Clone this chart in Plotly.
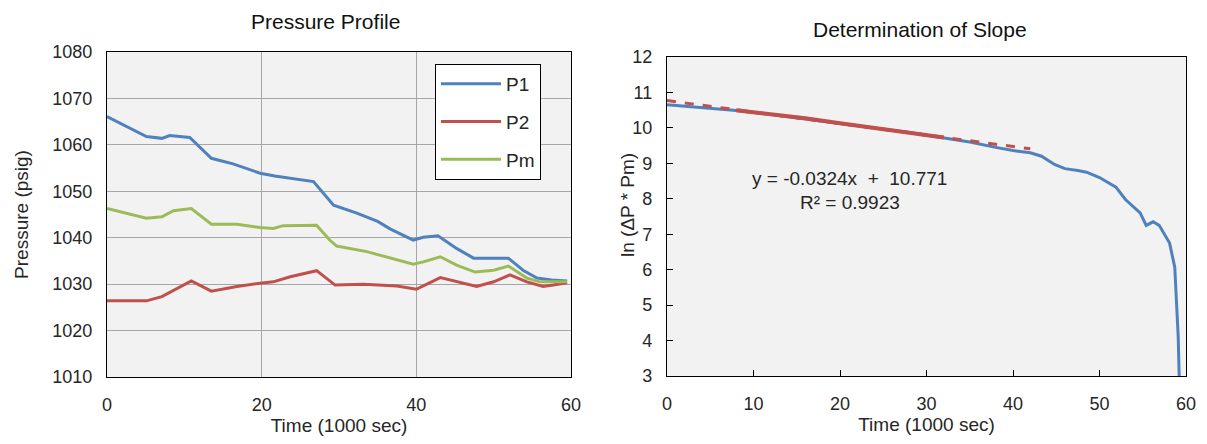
import plotly.graph_objects as go

# ---------------- Left chart: Pressure Profile ----------------
p1_time = [0, 2.1, 5.1, 7.1, 8.1, 10.7, 13.5, 16.3, 19.8, 21.7, 26.7, 29.3, 32.3, 35.0, 36.6,
           39.6, 40.9, 42.8, 45.2, 47.4, 49.5, 51.9, 53.8, 55.6, 57.5, 59.5]
p1_vals = [1066.1, 1064.3, 1061.8, 1061.4, 1062.0, 1061.6, 1057.1, 1055.9, 1053.9, 1053.3, 1052.1,
           1047.0, 1045.3, 1043.5, 1041.9, 1039.5, 1040.1, 1040.4, 1037.7, 1035.6, 1035.6, 1035.6,
           1033.0, 1031.3, 1030.9, 1030.7]

p2_time = [0, 5.1, 7.1, 8.6, 10.9, 13.5, 16.8, 19.8, 21.5, 23.7, 27.1, 29.5, 33.2, 37.5, 40.0,
           43.1, 47.8, 50.0, 52.1, 54.3, 56.4, 57.7, 59.5]
p2_vals = [1026.4, 1026.4, 1027.3, 1028.7, 1030.7, 1028.5, 1029.5, 1030.2, 1030.5, 1031.6, 1032.9,
           1029.8, 1030.0, 1029.6, 1028.9, 1031.4, 1029.5, 1030.5, 1032.0, 1030.5, 1029.5, 1029.8,
           1030.3]

pm_time = [0, 2.1, 5.1, 7.1, 8.6, 10.9, 13.5, 16.8, 19.8, 21.5, 22.8, 27.1, 28.8, 29.7, 33.6,
           39.6, 40.9, 43.1, 45.2, 47.6, 50.0, 51.9, 54.3, 56.0, 59.5]
pm_vals = [1046.3, 1045.4, 1044.2, 1044.5, 1045.8, 1046.3, 1042.9, 1042.9, 1042.2, 1042.0, 1042.6,
           1042.7, 1039.5, 1038.2, 1037.0, 1034.3, 1034.8, 1035.9, 1034.1, 1032.6, 1033.0, 1033.9,
           1031.3, 1030.5, 1030.5]

# ---------------- Right chart: Determination of Slope ----------------
ln_time = [0, 4, 8, 12, 16, 20, 24, 28, 32, 35, 38, 40, 42, 43.3, 44.8, 46, 47.5, 48.5, 50.0,
           51.9, 53.0, 54.7, 55.4, 56.2, 56.9, 58.1, 58.7, 58.9, 59.1, 59.2, 59.25]
ln_vals = [10.65, 10.57, 10.49, 10.38, 10.26, 10.13, 10.00, 9.87, 9.72, 9.60, 9.45, 9.36, 9.30,
           9.20, 8.97, 8.85, 8.80, 8.75, 8.60, 8.33, 7.98, 7.60, 7.25, 7.35, 7.25, 6.75, 6.07,
           5.14, 4.10, 3.10, 2.80]

fit_time = [8, 12, 16, 20, 24, 28, 32]
fit_vals = [10.50, 10.39, 10.27, 10.13, 10.00, 9.87, 9.73]

trend_time = [0, 42]
trend_vals = [10.771, 9.410]

BLUE = "#4F81BD"
RED = "#C0504D"
GREEN = "#9BBB59"
FONT = "Liberation Sans, Arial, sans-serif"
TXT = "#262626"

# page body has an 8px margin; figure sits at (8, 8) and must not overflow the window
W, H = 1199, 428


def px(x):
    return (x - 8) / W


def py(y):
    return 1 - (y - 8) / H


fig = go.Figure()

fig.add_trace(go.Scatter(x=p1_time, y=p1_vals, mode="lines", name="P1", legendgroup="a",
                         line=dict(color=BLUE, width=3), xaxis="x", yaxis="y"))
fig.add_trace(go.Scatter(x=p2_time, y=p2_vals, mode="lines", name="P2", legendgroup="b",
                         line=dict(color=RED, width=3), xaxis="x", yaxis="y"))
fig.add_trace(go.Scatter(x=pm_time, y=pm_vals, mode="lines", name="Pm", legendgroup="c",
                         line=dict(color=GREEN, width=3), xaxis="x", yaxis="y"))

fig.add_trace(go.Scatter(x=ln_time, y=ln_vals, mode="lines", showlegend=False,
                         line=dict(color=BLUE, width=3), xaxis="x2", yaxis="y2"))
fig.add_trace(go.Scatter(x=fit_time, y=fit_vals, mode="lines", showlegend=False,
                         line=dict(color=RED, width=4), xaxis="x2", yaxis="y2"))
fig.add_trace(go.Scatter(x=trend_time, y=trend_vals, mode="lines", showlegend=False,
                         line=dict(color=RED, width=3, dash="dash"), xaxis="x2", yaxis="y2"))

tickfont = dict(family=FONT, size=18, color=TXT)
titlefont = dict(family=FONT, size=19, color=TXT)

common = dict(automargin=False, zeroline=False, showline=True, linecolor="black",
              linewidth=1.2, mirror=True)

fig.update_layout(
    width=W, height=H,
    margin=dict(l=0, r=0, t=0, b=0),
    paper_bgcolor="white",
    plot_bgcolor="#F2F2F2",
    font=dict(family=FONT, color=TXT),
    showlegend=True,
    legend=dict(x=px(435), y=py(64), xanchor="left", yanchor="top",
                bgcolor="white", bordercolor="black", borderwidth=1,
                font=dict(family=FONT, size=19, color=TXT),
                tracegroupgap=10, itemwidth=60),
    xaxis=dict(domain=[px(107), px(571)], range=[0, 60], dtick=20, tick0=0,
               showgrid=True, gridcolor="#A6A6A6", gridwidth=1,
               ticks="", tickfont=tickfont, ticklabelstandoff=11,
               title=dict(text="Time (1000 sec)", font=titlefont, standoff=1),
               anchor="y", **common),
    yaxis=dict(domain=[py(377), py(52)], range=[1010, 1080], dtick=10,
               showgrid=True, gridcolor="#A6A6A6", gridwidth=1,
               ticks="", tickfont=tickfont, ticklabelstandoff=10,
               title=dict(text="Pressure (psig)", font=titlefont, standoff=18),
               anchor="x", **common),
    xaxis2=dict(domain=[px(667), px(1186)], range=[0, 60], dtick=10, tick0=0,
                showgrid=False,
                ticks="inside", ticklen=6, tickcolor="black", tickwidth=1,
                tickfont=tickfont, ticklabelstandoff=11,
                title=dict(text="Time (1000 sec)", font=titlefont, standoff=1),
                anchor="y2", **common),
    yaxis2=dict(domain=[py(376), py(57)], range=[3, 12], dtick=1,
                showgrid=False,
                ticks="inside", ticklen=6, tickcolor="black", tickwidth=1,
                tickfont=tickfont, ticklabelstandoff=10,
                anchor="x2", **common),
    annotations=[
        dict(text="Pressure Profile", xref="paper", yref="paper",
             x=px(325), y=py(21), xanchor="center", yanchor="middle",
             showarrow=False, font=dict(family=FONT, size=21, color="#111")),
        dict(text="Determination of Slope", xref="paper", yref="paper",
             x=px(920), y=py(29), xanchor="center", yanchor="middle",
             showarrow=False, font=dict(family=FONT, size=21, color="#111")),
        dict(text="ln (ΔP * Pm)", xref="paper", yref="paper",
             x=px(627), y=py(205), xanchor="center", yanchor="middle", textangle=-90,
             showarrow=False, font=titlefont),
        dict(text="y = -0.0324x  +  10.771", xref="paper", yref="paper",
             x=px(849), y=py(178), xanchor="center", yanchor="middle",
             showarrow=False, font=dict(family=FONT, size=19, color=TXT)),
        dict(text="R² = 0.9923", xref="paper", yref="paper",
             x=px(850), y=py(202), xanchor="center", yanchor="middle",
             showarrow=False, font=dict(family=FONT, size=19, color=TXT)),
    ],
)

fig.write_html("out.html")
